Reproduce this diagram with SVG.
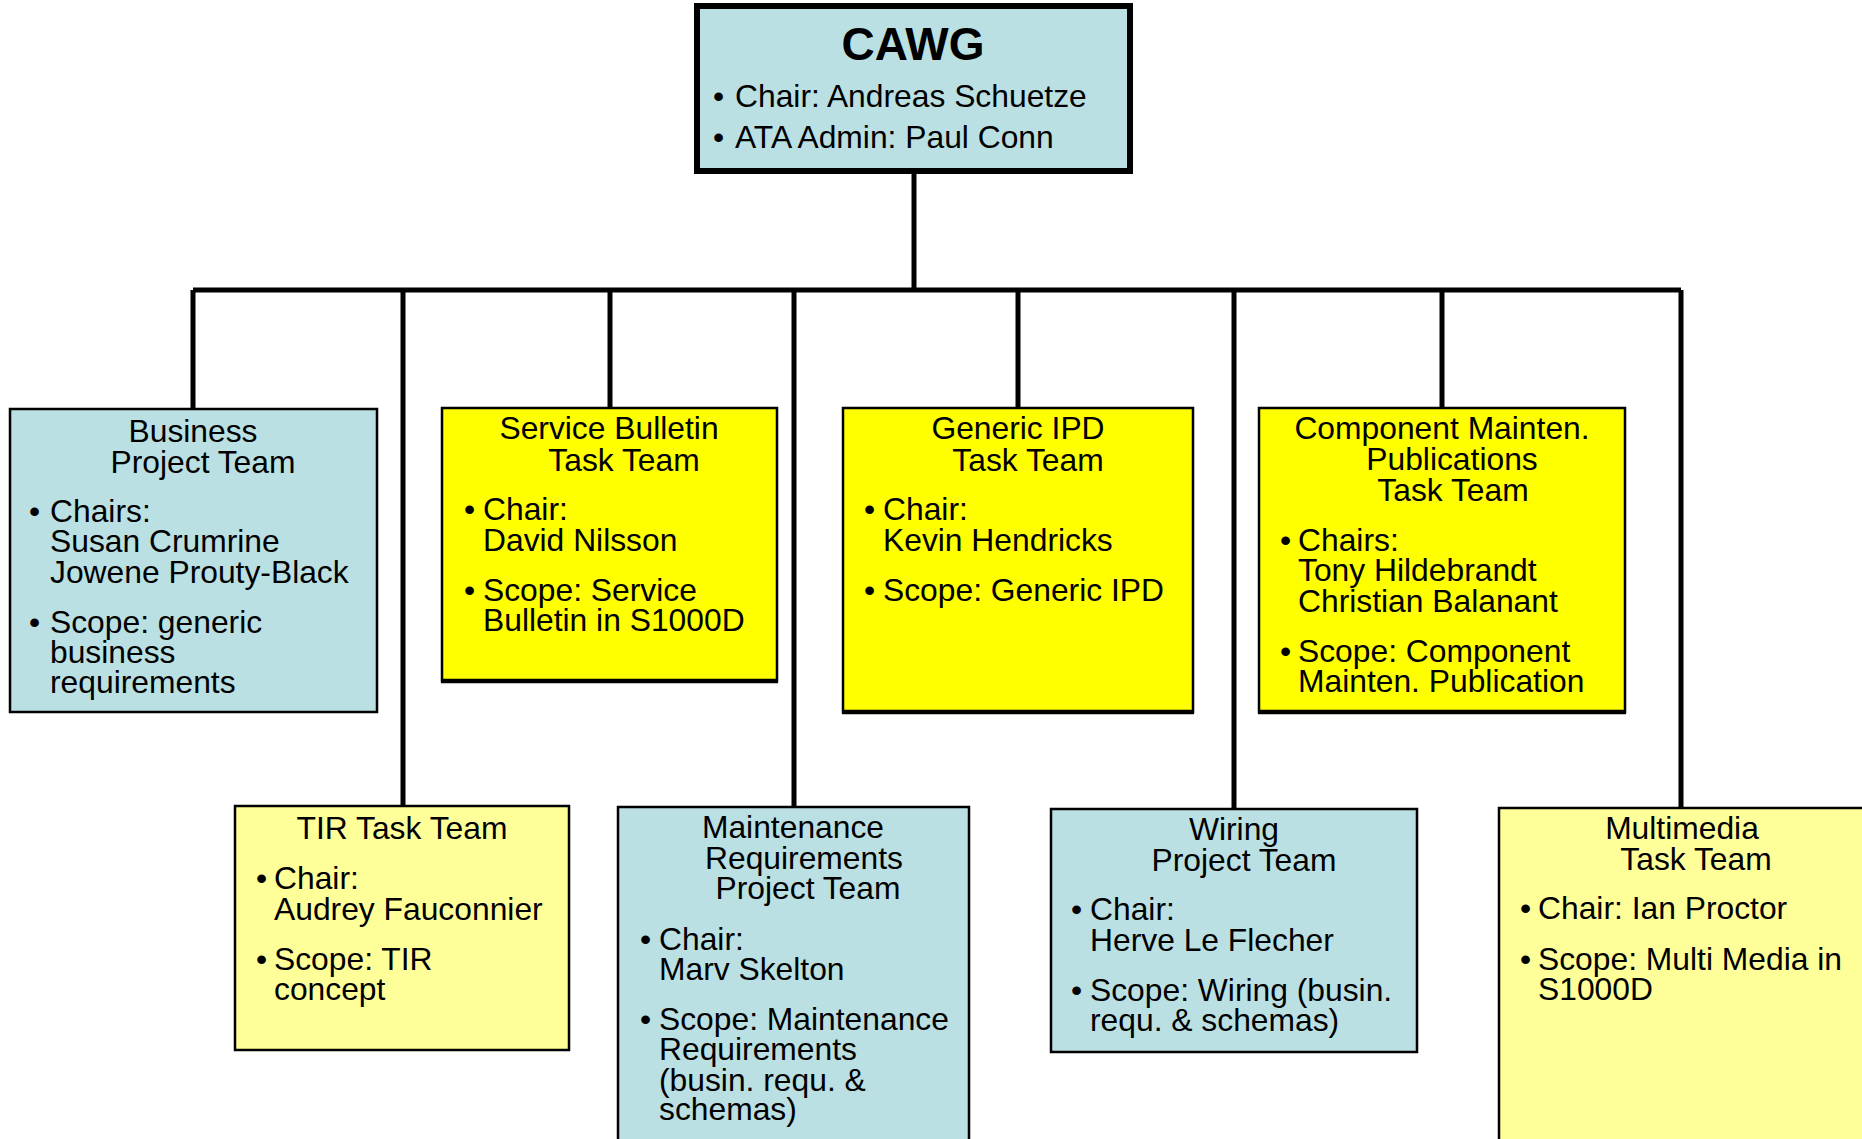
<svg xmlns="http://www.w3.org/2000/svg" width="1862" height="1139" viewBox="0 0 1862 1139">
<style>
text{font-family:"Liberation Sans",Arial,sans-serif;font-size:31.8px;fill:#000}
.c{text-anchor:middle}
.t{font-weight:bold;font-size:46px}
.box{stroke:#000;stroke-width:2.5}
.blue{fill:#bae0e3}
.yel{fill:#ffff00}
.pale{fill:#ffff99}
.conn{stroke:#000;stroke-width:5;fill:none}
.btm{stroke:#000;stroke-width:4.5;fill:none}
</style>
<rect width="1862" height="1139" fill="#fff"/>
<g id="connectors" class="conn">
<path d="M914 174V290"/>
<path d="M193 290H1681"/>
<path d="M193 290V408"/>
<path d="M403 290V805"/>
<path d="M610 290V407"/>
<path d="M794 290V806"/>
<path d="M1018 290V407"/>
<path d="M1234 290V808"/>
<path d="M1442 290V407"/>
<path d="M1681 290V807"/>
</g>
<g id="cawg">
<rect x="697" y="6" width="433" height="165" class="blue" stroke="#000" stroke-width="6"/>
<text x="913" y="60" class="c t">CAWG</text>
<text x="713" y="107">•</text><text x="735" y="107">Chair: Andreas Schuetze</text>
<text x="713" y="148">•</text><text x="735" y="148">ATA Admin: Paul Conn</text>
</g>
<g id="business">
<rect x="10" y="409" width="367" height="303" class="box blue"/>
<text x="193" y="442" class="c">Business</text>
<text x="203" y="473" class="c">Project Team</text>
<text x="29" y="522">•</text><text x="50" y="522">Chairs:</text>
<text x="50" y="552">Susan Crumrine</text>
<text x="50" y="583">Jowene Prouty-Black</text>
<text x="29" y="633">•</text><text x="50" y="633">Scope: generic</text>
<text x="50" y="663">business</text>
<text x="50" y="693">requirements</text>
</g>
<g id="service-bulletin">
<rect x="442" y="408" width="335" height="273" class="box yel"/>
<path d="M441 681H778" class="btm"/>
<text x="609" y="439" class="c">Service Bulletin</text>
<text x="624" y="471" class="c">Task Team</text>
<text x="464" y="520">•</text><text x="483" y="520">Chair:</text>
<text x="483" y="551">David Nilsson</text>
<text x="464" y="601">•</text><text x="483" y="601">Scope: Service</text>
<text x="483" y="631">Bulletin in S1000D</text>
</g>
<g id="generic-ipd">
<rect x="843" y="408" width="350" height="304" class="box yel"/>
<path d="M842 712H1194" class="btm"/>
<text x="1018" y="439" class="c">Generic IPD</text>
<text x="1028" y="471" class="c">Task Team</text>
<text x="864" y="520">•</text><text x="883" y="520">Chair:</text>
<text x="883" y="551">Kevin Hendricks</text>
<text x="864" y="601">•</text><text x="883" y="601">Scope: Generic IPD</text>
</g>
<g id="component">
<rect x="1259" y="408" width="366" height="304" class="box yel"/>
<path d="M1258 712H1626" class="btm"/>
<text x="1442" y="439" class="c">Component Mainten.</text>
<text x="1452" y="470" class="c">Publications</text>
<text x="1453" y="501" class="c">Task Team</text>
<text x="1280" y="551">•</text><text x="1298" y="551">Chairs:</text>
<text x="1298" y="581">Tony Hildebrandt</text>
<text x="1298" y="612">Christian Balanant</text>
<text x="1280" y="662">•</text><text x="1298" y="662">Scope: Component</text>
<text x="1298" y="692">Mainten. Publication</text>
</g>
<g id="tir">
<rect x="235" y="806" width="334" height="244" class="box pale"/>
<text x="402" y="839" class="c">TIR Task Team</text>
<text x="256" y="889">•</text><text x="274" y="889">Chair:</text>
<text x="274" y="920">Audrey Fauconnier</text>
<text x="256" y="970">•</text><text x="274" y="970">Scope: TIR</text>
<text x="274" y="1000">concept</text>
</g>
<g id="maintenance">
<rect x="618" y="807" width="351" height="345" class="box blue"/>
<text x="793" y="838" class="c">Maintenance</text>
<text x="804" y="869" class="c">Requirements</text>
<text x="808" y="899" class="c">Project Team</text>
<text x="640" y="950">•</text><text x="659" y="950">Chair:</text>
<text x="659" y="980">Marv Skelton</text>
<text x="640" y="1030">•</text><text x="659" y="1030">Scope: Maintenance</text>
<text x="659" y="1060">Requirements</text>
<text x="659" y="1091">(busin. requ. &amp;</text>
<text x="659" y="1120">schemas)</text>
</g>
<g id="wiring">
<rect x="1051" y="809" width="366" height="243" class="box blue"/>
<text x="1234" y="840" class="c">Wiring</text>
<text x="1244" y="871" class="c">Project Team</text>
<text x="1071" y="920">•</text><text x="1090" y="920">Chair:</text>
<text x="1090" y="951">Herve Le Flecher</text>
<text x="1071" y="1001">•</text><text x="1090" y="1001">Scope: Wiring (busin.</text>
<text x="1090" y="1031">requ. &amp; schemas)</text>
</g>
<g id="multimedia">
<rect x="1499" y="808" width="380" height="345" class="box pale"/>
<text x="1682" y="839" class="c">Multimedia</text>
<text x="1696" y="870" class="c">Task Team</text>
<text x="1520" y="919">•</text><text x="1538" y="919">Chair: Ian Proctor</text>
<text x="1520" y="970">•</text><text x="1538" y="970">Scope: Multi Media in</text>
<text x="1538" y="1000">S1000D</text>
</g>
</svg>
